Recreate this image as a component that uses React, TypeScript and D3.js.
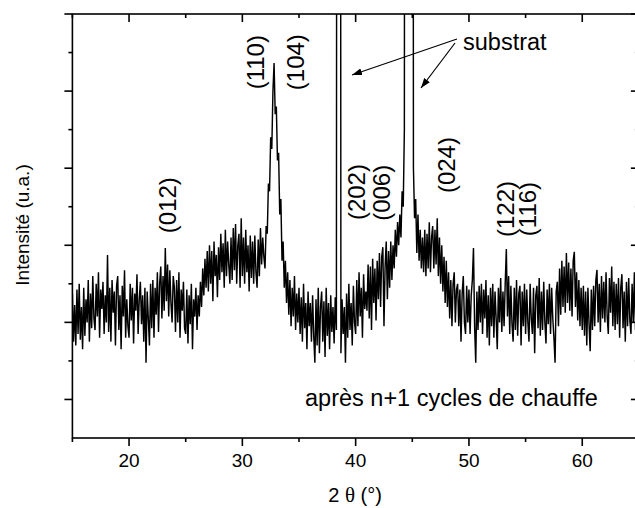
import React from "react";
import * as d3 from "d3";

// 2θ sampling of the scan
const START_ANGLE = 15;
const STEP = 0.1;

// intensities (a.u.), one per 0.1° from 15.0° to 65.0°
const intensity: number[] = [
  // 15
  275, 150, 245, 140, 285, 170, 300, 155, 240, 130,
  // 16
  290, 165, 260, 200, 310, 150, 275, 185, 320, 210,
  // 17
  180, 300, 215, 330, 160, 285, 235, 305, 170, 270,
  // 18
  200, 375, 175, 290, 150, 310, 225, 280, 140, 295,
  // 19
  320, 180, 270, 130, 295, 215, 335, 160, 260, 190,
  // 20
  160, 300, 205, 290, 145, 275, 230, 325, 170, 260,
  // 21
  305, 195, 270, 150, 290, 95, 280, 210, 140, 300,
  // 22
  185, 310, 160, 290, 220, 330, 175, 300, 345, 210,
  // 23
  320, 230, 393, 255, 350, 215, 335, 250, 200, 320,
  // 24
  290, 175, 310, 200, 330, 160, 285, 230, 305, 185,
  // 25
  170, 285, 145, 270, 195, 300, 130, 260, 215, 290,
  // 26
  180, 270, 215, 305, 240, 340, 270, 365, 290, 385,
  // 27
  280, 400, 300, 385, 255, 410, 320, 375, 265, 395,
  // 28
  310, 430, 330, 405, 290, 440, 320, 410, 350, 300,
  // 29
  420, 310, 445, 335, 455, 300, 400, 430, 290, 470,
  // 30
  320, 420, 300, 440, 330, 400, 280, 425, 315, 410,
  // 31
  300, 425, 330, 290, 415, 320, 445, 350, 420, 370,
  // 32
  340, 450, 430, 560, 540, 680, 650, 800, 873, 740,
  // 33
  760, 620, 640, 480, 520, 360, 410, 290, 360, 250,
  // 34
  330, 220, 310, 190, 290, 215, 320, 180, 275, 200,
  // 35
  290, 170, 265, 150, 300, 185, 250, 130, 280, 190,
  // 36
  250, 150, 270, 165, 95, 260, 140, 290, 120, 240,
  // 37
  280, 150, 255, 110, 290, 165, 250, 130, 270, 175,
  // 38
  240, 145, 265, 180, 5000, 8000, 5000, 120, 260, 170,
  // 39
  240, 95, 275, 160, 300, 180, 250, 140, 295, 200,
  // 40
  170, 310, 190, 330, 215, 290, 160, 325, 235, 280,
  // 41
  230, 350, 210, 345, 180, 365, 250, 340, 205, 360,
  // 42
  260, 380, 240, 370, 395, 190, 345, 410, 260, 385,
  // 43
  290, 410, 310, 400, 340, 440, 370, 460, 400, 480,
  // 44
  420, 540, 500, 700, 5000, 9000, 9000, 9000, 9000, 9000,
  // 45
  5000, 600, 470, 520, 380, 480, 360, 440, 340, 420,
  // 46
  330, 440, 320, 430, 340, 460, 330, 420, 450, 340,
  // 47
  440, 350, 470, 320, 420, 300, 400, 280, 370, 250,
  // 48
  360, 240, 330, 210, 310, 190, 300, 330, 200, 285,
  // 49
  300, 190, 285, 150, 275, 320, 200, 170, 295, 200,
  // 50
  285, 170, 270, 310, 393, 190, 95, 280, 180, 295,
  // 51
  200, 300, 170, 285, 210, 310, 160, 270, 140, 290,
  // 52
  190, 300, 160, 280, 210, 130, 290, 200, 315, 175,
  // 53
  280, 190, 300, 390, 215, 320, 170, 295, 195, 150,
  // 54
  290, 180, 310, 165, 275, 295, 140, 280, 190, 300,
  // 55
  170, 285, 200, 150, 300, 210, 170, 290, 120, 270,
  // 56
  295, 185, 315, 165, 280, 180, 305, 200, 145, 285,
  // 57
  195, 300, 170, 290, 210, 160, 95, 280, 305, 190,
  // 58
  340, 220, 360, 240, 345, 225, 380, 250, 355, 230,
  // 59
  340, 215, 360, 383, 240, 330, 205, 310, 190, 290,
  // 60
  180, 295, 165, 280, 140, 290, 195, 125, 285, 180,
  // 61
  295, 190, 310, 336, 200, 300, 175, 320, 210, 305,
  // 62
  200, 330, 215, 170, 315, 225, 345, 190, 305, 180,
  // 63
  300, 195, 315, 160, 290, 325, 185, 280, 150, 305,
  // 64
  190, 315, 205, 170, 300, 200, 330, 180, 295, 200,
  // 65
  250,
];

const xTicksMajor = [20, 30, 40, 50, 60];
const xTicksMinor = [15, 25, 35, 45, 55, 65];
const yTicksMajor = [0, 200, 400, 600, 800, 1000];
const yTicksMinor = [100, 300, 500, 700, 900];

const hklLabels = ["(110)", "(104)", "(012)", "(202)", "(006)", "(024)", "(122)", "(116)"];
const hklAngle = [31.2, 34.7, 23.4, 40.1, 42.3, 48.0, 53.25, 55.2];
const hklLevel = [875, 875, 504, 538, 536, 608, 494, 494];

const W = 635;
const H = 508;
const PL = 72.4;
const PR = 638.9;
const PT = 14;
const PB = 438;
const SANS = "'Liberation Sans', Arial, Helvetica, sans-serif";
const SERIF = "'Liberation Serif', 'Times New Roman', serif";

export default function App() {
  const x = d3.scaleLinear().domain([15, 65]).range([PL, PR]);
  const y = d3.scaleLinear().domain([-100, 1000]).range([PB, PT]);
  const pts: [number, number][] = intensity.map((v, i) => [START_ANGLE + i * STEP, v]);
  const line = d3
    .line<[number, number]>()
    .x((d) => x(d[0]))
    .y((d) => y(d[1]));

  const axisColor = "#000";
  const majorLen = 8;
  const minorLen = 4;

  return (
    <svg
      width={W}
      height={H}
      style={{ position: "absolute", left: 0, top: 0, background: "#fff" }}
      fontFamily={SANS}
    >
      <defs>
        <clipPath id="plotClip">
          <rect x={PL} y={PT} width={PR - PL} height={PB - PT} />
        </clipPath>
        <marker
          id="arrowHead"
          viewBox="0 0 10 7"
          refX="10"
          refY="3.5"
          markerWidth="10"
          markerHeight="7"
          markerUnits="userSpaceOnUse"
          orient="auto"
        >
          <path d="M0,0 L10,3.5 L0,7 z" fill="#000" />
        </marker>
      </defs>
      <rect x={0} y={0} width={W} height={H} fill="#fff" />

      <g clipPath="url(#plotClip)">
        <path d={line(pts) || ""} fill="none" stroke="#000" strokeWidth={1.45} strokeLinejoin="miter" />
      </g>

      {/* frame */}
      <rect x={PL} y={PT} width={PR - PL} height={PB - PT} fill="none" stroke={axisColor} strokeWidth={1.6} />

      {/* x ticks bottom (outward) and top (inward) */}
      {xTicksMajor.map((t) => (
        <g key={"xM" + t}>
          <line x1={x(t)} x2={x(t)} y1={PB} y2={PB + majorLen} stroke={axisColor} strokeWidth={1.6} />
          <line x1={x(t)} x2={x(t)} y1={PT} y2={PT + majorLen} stroke={axisColor} strokeWidth={1.6} />
          <text x={x(t)} y={467} fontSize={19} textAnchor="middle" fill="#000">
            {t}
          </text>
        </g>
      ))}
      {xTicksMinor.map((t) => (
        <g key={"xm" + t}>
          <line x1={x(t)} x2={x(t)} y1={PB} y2={PB + minorLen} stroke={axisColor} strokeWidth={1.6} />
          <line x1={x(t)} x2={x(t)} y1={PT} y2={PT + minorLen} stroke={axisColor} strokeWidth={1.6} />
        </g>
      ))}

      {/* y ticks left (outward) and right (inward) */}
      {yTicksMajor.map((t) => (
        <g key={"yM" + t}>
          <line x1={PL - majorLen} x2={PL} y1={y(t)} y2={y(t)} stroke={axisColor} strokeWidth={1.6} />
          <line x1={PR - majorLen} x2={PR} y1={y(t)} y2={y(t)} stroke={axisColor} strokeWidth={1.6} />
        </g>
      ))}
      {yTicksMinor.map((t) => (
        <g key={"ym" + t}>
          <line x1={PL - minorLen} x2={PL} y1={y(t)} y2={y(t)} stroke={axisColor} strokeWidth={1.6} />
          <line x1={PR - minorLen} x2={PR} y1={y(t)} y2={y(t)} stroke={axisColor} strokeWidth={1.6} />
        </g>
      ))}

      {/* axis titles */}
      <text x={355} y={502} fontSize={20} textAnchor="middle" fill="#000">
        <tspan>2 </tspan>
        <tspan fontFamily={SERIF} fontSize={21}>θ</tspan>
        <tspan> (°)</tspan>
      </text>
      <text
        transform={`translate(29,225) rotate(-90)`}
        fontSize={19}
        textAnchor="middle"
        fill="#000"
      >
        Intensité (u.a.)
      </text>

      {/* hkl labels */}
      {hklLabels.map((s, i) => (
        <text
          key={s}
          transform={`translate(${x(hklAngle[i])},${y(hklLevel[i])}) rotate(-90)`}
          fontSize={24}
          textAnchor="middle"
          dy="0.35em"
          fill="#000"
        >
          {s}
        </text>
      ))}

      {/* substrate annotation */}
      <text x={463} y={50} fontSize={23.5} fill="#000">
        substrat
      </text>
      <line x1={457} y1={39} x2={352} y2={75} stroke="#000" strokeWidth={1.2} markerEnd="url(#arrowHead)" />
      <line x1={455} y1={43} x2={421} y2={88} stroke="#000" strokeWidth={1.2} markerEnd="url(#arrowHead)" />

      <text x={305} y={406} fontSize={23.5} fill="#000">
        après n+1 cycles de chauffe
      </text>
    </svg>
  );
}
